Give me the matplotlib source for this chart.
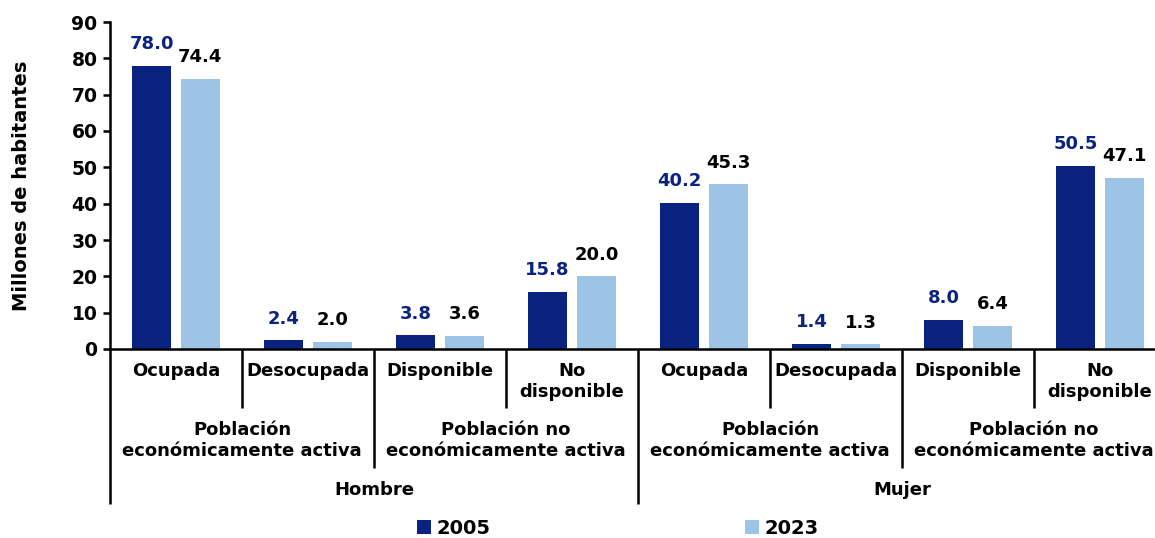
import numpy as np
import matplotlib
matplotlib.use("Agg")
import matplotlib.pyplot as plt

# data
categories = ["Ocupada", "Desocupada", "Disponible", "No\ndisponible",
              "Ocupada", "Desocupada", "Disponible", "No\ndisponible"]
groups = ["Población\neconómicamente activa", "Población no\neconómicamente activa",
          "Población\neconómicamente activa", "Población no\neconómicamente activa"]
sexes = ["Hombre", "Mujer"]
v2005 = [78.0, 2.4, 3.8, 15.8, 40.2, 1.4, 8.0, 50.5]
v2023 = [74.4, 2.0, 3.6, 20.0, 45.3, 1.3, 6.4, 47.1]
series_names = ["2005", "2023"]

NAVY = "#0B2380"
LIGHT = "#9DC3E6"

plt.rcParams["font.family"] = ["DejaVu Sans"]
plt.rcParams["font.weight"] = "bold"

fig = plt.figure(figsize=(11.55, 5.38), dpi=100)
W, H = 1155, 538
ax = fig.add_axes([110 / W, (H - 349) / H, 1056 / W, 327 / H])

x = np.arange(len(categories)) + 0.5
bw = 0.29
b1 = ax.bar(x - 0.185, v2005, bw, color=NAVY, label=series_names[0])
b2 = ax.bar(x + 0.185, v2023, bw, color=LIGHT, label=series_names[1])

# value labels
for rect, v in zip(b1, v2005):
    ax.annotate(f"{v:.1f}", (rect.get_x() + rect.get_width() / 2, v),
                xytext=(0, 9), textcoords="offset points", ha="center", va="bottom",
                fontsize=13, fontweight="bold", color=NAVY)
for rect, v in zip(b2, v2023):
    ax.annotate(f"{v:.1f}", (rect.get_x() + rect.get_width() / 2, v),
                xytext=(0, 9), textcoords="offset points", ha="center", va="bottom",
                fontsize=13, fontweight="bold", color="black")

ax.set_xlim(0, 8)
ax.set_ylim(0, 90)
ax.set_yticks(range(0, 91, 10))
ax.tick_params(axis="y", labelsize=13.5, width=1.8, length=5, pad=4)
ax.tick_params(axis="x", bottom=False, labelbottom=False)
for lbl in ax.get_yticklabels():
    lbl.set_fontweight("bold")
ax.spines["top"].set_visible(False)
ax.spines["right"].set_visible(False)
ax.spines["left"].set_linewidth(1.8)
ax.spines["bottom"].set_linewidth(1.8)
ax.set_ylabel("Millones de habitantes", fontsize=14, fontweight="bold")
ax.yaxis.set_label_coords(-(110 - 31) / 1056, 0.5)

# multi-level category axis
tr = ax.get_xaxis_transform()
px = lambda ypix: -(ypix - 349) / 327.0
row1_bot, row2_bot, row3_bot = px(408), px(468), px(504)

for i in range(9):
    if i % 4 == 0:
        bot = row3_bot
    elif i % 2 == 0:
        bot = row2_bot
    else:
        bot = row1_bot
    ax.plot([i, i], [0, bot], transform=tr, color="black", lw=1.8, clip_on=False,
            solid_capstyle="butt")

for i, c in enumerate(categories):
    ax.text(i + 0.5, px(362), c, transform=tr, ha="center", va="top",
            fontsize=13, fontweight="bold", linespacing=1.2)
for j, g in enumerate(groups):
    ax.text(2 * j + 1, px(421), g, transform=tr, ha="center", va="top",
            fontsize=13, fontweight="bold", linespacing=1.2)
for k, s in enumerate(sexes):
    ax.text(4 * k + 2, px(481), s, transform=tr, ha="center", va="top",
            fontsize=13, fontweight="bold")

fig.legend(handles=[b1, b2], labels=series_names, loc="center",
           bbox_to_anchor=(618 / W, 10 / H), ncol=2, frameon=False,
           handlelength=0.7, handleheight=0.7, handletextpad=0.3,
           columnspacing=13.1, prop={"weight": "bold", "size": 14})

fig.savefig("out.png", dpi=100)
